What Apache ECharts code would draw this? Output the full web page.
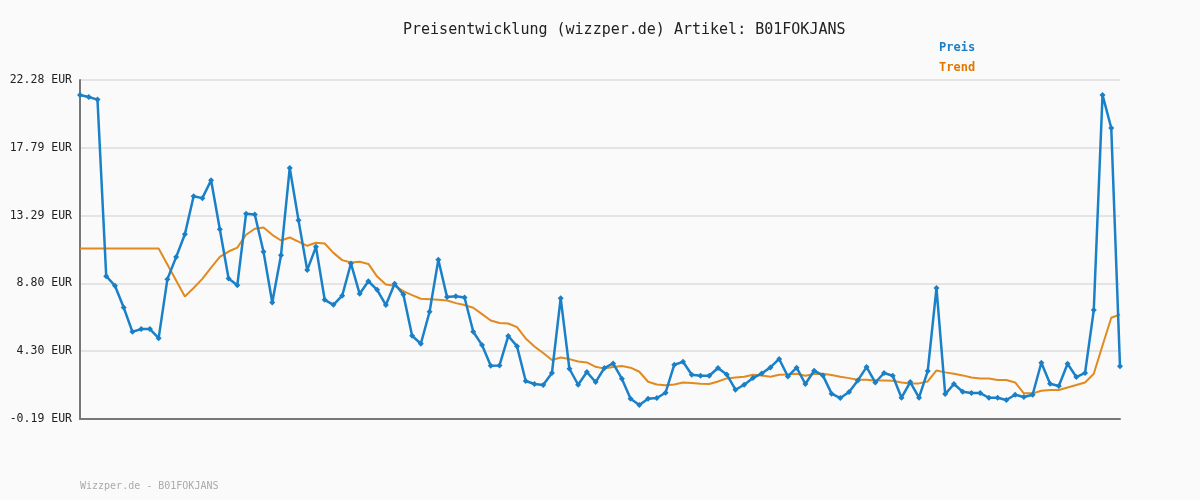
<!DOCTYPE html>
<html>
<head>
<meta charset="utf-8">
<script src="https://cdn.jsdelivr.net/npm/echarts@6/dist/echarts.min.js"></script>
<style>
html,body{margin:0;padding:0;background:#fafafa;}
#chart{width:1200px;height:500px;}
</style>
</head>
<body>
<div id="chart"></div>
<script>
const titleText = 'Preisentwicklung (wizzper.de) Artikel: B01FOKJANS';
const footerText = 'Wizzper.de - B01FOKJANS';
const seriesNames = ['Preis', 'Trend'];
const yMin = -0.19;
const yMax = 22.28;
const currency = 'EUR';

const preis = [
  21.29, 21.15, 20.98, 9.28, 8.64, 7.20, 5.59, 5.77, 5.77, 5.17,
  9.08, 10.54, 12.06, 14.58, 14.45, 15.64, 12.39, 9.12, 8.68, 13.41,
  13.36, 10.89, 7.53, 10.67, 16.45, 12.99, 9.68, 11.22, 7.71, 7.38,
  7.98, 10.12, 8.11, 8.94, 8.37, 7.36, 8.77, 8.06, 5.33, 4.80,
  6.92, 10.36, 7.89, 7.94, 7.86, 5.59, 4.71, 3.34, 3.36, 5.31,
  4.64, 2.33, 2.13, 2.06, 2.86, 7.82, 3.14, 2.08, 2.92, 2.26,
  3.19, 3.49, 2.48, 1.15, 0.74, 1.15, 1.20, 1.55, 3.41, 3.60,
  2.74, 2.68, 2.68, 3.19, 2.76, 1.75, 2.08, 2.52, 2.83, 3.23,
  3.79, 2.63, 3.21, 2.13, 3.01, 2.70, 1.49, 1.20, 1.60, 2.37,
  3.25, 2.23, 2.86, 2.68, 1.22, 2.26, 1.22, 2.99, 8.49, 1.46,
  2.13, 1.62, 1.53, 1.53, 1.22, 1.22, 1.07, 1.42, 1.27, 1.42,
  3.54, 2.15, 2.00, 3.47, 2.59, 2.86, 7.03, 21.29, 19.10, 3.30
];

const trend = [
  11.11, 11.11, 11.11, 11.11, 11.11, 11.11, 11.11, 11.11, 11.11, 11.11,
  10.05, 8.99, 7.93, 8.49, 9.10, 9.85, 10.56, 10.91, 11.17, 12.02,
  12.42, 12.50, 12.02, 11.64, 11.84, 11.57, 11.29, 11.49, 11.44, 10.82,
  10.34, 10.18, 10.23, 10.09, 9.25, 8.72, 8.64, 8.29, 8.02, 7.78,
  7.75, 7.71, 7.66, 7.49, 7.36, 7.18, 6.76, 6.34, 6.17, 6.14,
  5.90, 5.15, 4.62, 4.18, 3.72, 3.89, 3.78, 3.62, 3.56, 3.27,
  3.15, 3.25, 3.32, 3.21, 2.94, 2.28, 2.10, 2.04, 2.10, 2.23,
  2.19, 2.15, 2.13, 2.30, 2.50, 2.56, 2.61, 2.74, 2.70, 2.61,
  2.74, 2.76, 2.81, 2.68, 2.79, 2.81, 2.72, 2.61, 2.52, 2.41,
  2.41, 2.37, 2.37, 2.35, 2.23, 2.17, 2.17, 2.30, 3.03, 2.90,
  2.81, 2.70, 2.56, 2.50, 2.50, 2.39, 2.39, 2.23, 1.51, 1.51,
  1.68, 1.73, 1.73, 1.90, 2.06, 2.23, 2.81, 4.68, 6.52, 6.74
];

const categories = preis.map((_, i) => String(i + 1));

// shift so that the axis minimum lands on a tick (axis counts ticks from 0)
const shift = -yMin;
const span = yMax - yMin;
const step = span / 5;
const shifted = arr => arr.map(v => +(v + shift).toFixed(4));

const mono = "'DejaVu Sans Mono', 'Liberation Mono', monospace";
const chart = echarts.init(document.getElementById('chart'));
chart.setOption({
  backgroundColor: '#fafafa',
  animation: false,
  title: {
    text: titleText,
    left: 398,
    top: 18,
    textStyle: { fontFamily: mono, fontSize: 15, fontWeight: 'normal', color: '#222' }
  },
  legend: {
    orient: 'vertical',
    left: 929,
    top: 37,
    itemWidth: 0,
    itemHeight: 0,
    itemGap: 8,
    icon: 'rect',
    data: [
      { name: seriesNames[0], textStyle: { color: '#1a7fc4' } },
      { name: seriesNames[1], textStyle: { color: '#e07800' } }
    ],
    textStyle: { fontFamily: mono, fontSize: 12, fontWeight: 'bold' }
  },
  graphic: [{
    type: 'text',
    left: 80,
    top: 481,
    style: { text: footerText, fontFamily: mono, fontSize: 10, fill: '#aaaaaa' }
  }],
  grid: { left: 80, right: 80, top: 80, bottom: 81 },
  xAxis: {
    type: 'category',
    data: categories,
    boundaryGap: false,
    axisLine: { show: true, lineStyle: { color: '#777', width: 2 } },
    axisTick: { show: false },
    axisLabel: { show: false },
    splitLine: { show: false }
  },
  yAxis: {
    type: 'value',
    min: 0,
    max: span,
    interval: step,
    axisLine: { show: true, lineStyle: { color: '#777', width: 2 } },
    axisTick: { show: false },
    axisLabel: {
      margin: 8,
      fontFamily: mono,
      fontSize: 11.5,
      color: '#222',
      formatter: v => (v - shift).toFixed(2) + ' ' + currency
    },
    splitLine: { show: true, lineStyle: { color: '#e4e4e4', width: 2 } }
  },
  series: [
    {
      name: seriesNames[0],
      type: 'line',
      data: shifted(preis),
      z: 3,
      symbol: 'diamond',
      symbolSize: 6,
      showSymbol: true,
      showAllSymbol: true,
      itemStyle: { color: '#1a7fc4' },
      lineStyle: { color: '#1a80c8', width: 2.5 }
    },
    {
      name: seriesNames[1],
      type: 'line',
      data: shifted(trend),
      z: 2,
      symbol: 'none',
      itemStyle: { color: '#e07800' },
      lineStyle: { color: '#e08a20', width: 2 }
    }
  ]
});
</script>
</body>
</html>
